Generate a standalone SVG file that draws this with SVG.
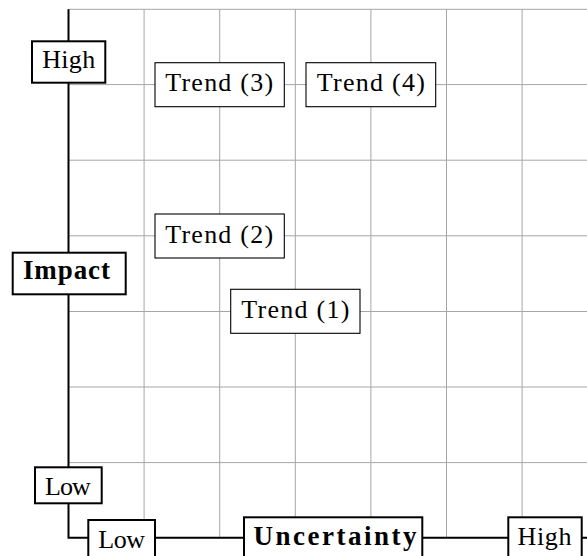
<svg xmlns="http://www.w3.org/2000/svg" width="587" height="556" viewBox="0 0 587 556">
<style>
.grid{stroke:#a6a6a6;stroke-width:1;fill:none}
.axis{stroke:#000;stroke-width:2;fill:none}
.lbl rect{fill:#fff;stroke:#000;stroke-width:2}
.trend rect{fill:#fff;stroke:#000;stroke-width:1.1}
text{font-family:"Liberation Serif","Times New Roman",serif;font-size:26px;fill:#000;text-anchor:middle}
.b{font-weight:bold;font-size:27px}
</style>
<rect width="587" height="556" fill="#fff"/>
<g id="grid">
<path class="grid" d="M68.5 9.3H587M68.5 84.6H587M68.5 160.2H587M68.5 235.8H587M68.5 311.5H587M68.5 387H587M68.5 462.6H587M144.1 9.3V538M219.7 9.3V538M295.3 9.3V538M370.9 9.3V538M446.5 9.3V538M522.1 9.3V538"/>
</g>
<g id="connectors">
<path class="axis" d="M68.5 9.3V537.8H587"/>
</g>
<g id="high-impact" class="lbl"><rect x="32" y="41.3" width="73.3" height="41.4"/><text x="68.7" y="68.3" textLength="53">High</text></g>
<g id="impact" class="lbl"><rect x="12.7" y="252.7" width="113" height="41.6"/><text class="b" x="66.4" y="278.5" textLength="87">Impact</text></g>
<g id="low-impact" class="lbl"><rect x="35" y="467.3" width="66.7" height="36"/><text x="67.9" y="495" textLength="45.7">Low</text></g>
<g id="low-uncertainty" class="lbl"><rect x="88.3" y="520" width="66.7" height="37"/><text x="121.7" y="548.3" textLength="46.7">Low</text></g>
<g id="uncertainty" class="lbl"><rect x="244" y="517.3" width="178.3" height="41.4"/><text class="b" x="335" y="545" textLength="163">Uncertainty</text></g>
<g id="high-uncertainty" class="lbl"><rect x="508.3" y="517.3" width="73.4" height="41.4"/><text x="544.5" y="545" textLength="54">High</text></g>
<g id="trend3" class="trend"><rect x="155" y="62.7" width="129.3" height="44"/><text x="219.2" y="91.3" textLength="108">Trend (3)</text></g>
<g id="trend4" class="trend"><rect x="306" y="62.7" width="129.7" height="44"/><text x="370.8" y="91.3" textLength="108">Trend (4)</text></g>
<g id="trend2" class="trend"><rect x="155" y="214" width="129.3" height="44"/><text x="219.2" y="242.6" textLength="108">Trend (2)</text></g>
<g id="trend1" class="trend"><rect x="230.7" y="289.3" width="129.3" height="44"/><text x="295.3" y="318" textLength="108">Trend (1)</text></g>
</svg>
